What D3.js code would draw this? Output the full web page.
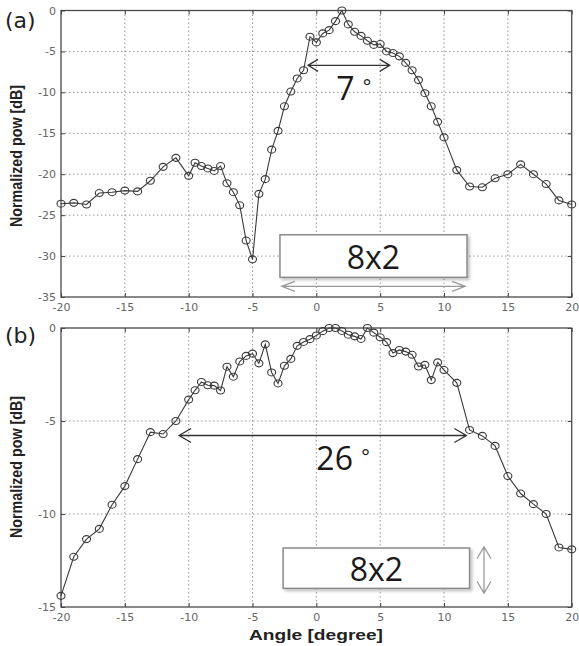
<!DOCTYPE html>
<html>
<head>
<meta charset="utf-8">
<script src="https://cdn.jsdelivr.net/npm/d3@7/dist/d3.min.js"></script>
<style>
  body { margin: 0; background: #fff; }
  svg { display: block; }
</style>
</head>
<body>
<svg id="chart" width="579" height="646"></svg>
<script>
// ---- data ----
const angles = [-20,-19,-18,-17,-16,-15,-14,-13,-12,-11,
  -10,-9.5,-9,-8.5,-8,-7.5,-7,-6.5,-6,-5.5,-5,-4.5,-4,-3.5,-3,-2.5,-2,-1.5,-1,-0.5,
  0,0.5,1,1.5,2,2.5,3,3.5,4,4.5,5,5.5,6,6.5,7,7.5,8,8.5,9,9.5,10,
  11,12,13,14,15,16,17,18,19,20];

const powA = [-23.6,-23.5,-23.7,-22.3,-22.2,-22.0,-22.1,-20.8,-19.1,-18.0,
  -20.2,-18.6,-19.0,-19.3,-19.6,-19.0,-21.1,-22.2,-23.8,-28.1,-30.4,-22.4,-20.6,-17.0,-14.7,-11.7,-9.9,-8.3,-7.3,-3.2,
  -3.9,-2.8,-2.4,-1.3,0,-1.7,-2.6,-3.1,-3.7,-4.2,-4.1,-5.0,-5.2,-5.6,-6.4,-7.3,-8.5,-10.1,-11.7,-13.6,-15.5,
  -19.5,-21.5,-21.6,-20.5,-20.0,-18.8,-20.0,-21.2,-23.2,-23.7];

const powB = [-14.4,-12.3,-11.35,-10.8,-9.5,-8.5,-7.05,-5.6,-5.7,-5.0,
  -3.85,-3.35,-2.9,-3.08,-3.1,-3.36,-2.08,-2.62,-1.8,-1.5,-1.38,-1.9,-0.88,-2.39,-2.98,-2.03,-1.66,-0.96,-0.75,-0.6,
  -0.4,-0.17,0,0,-0.16,-0.36,-0.45,-0.59,0,-0.25,-0.5,-0.76,-1.35,-1.18,-1.27,-1.44,-2.07,-1.98,-2.8,-1.85,-2.26,
  -2.95,-5.48,-5.8,-6.34,-7.96,-8.9,-9.47,-10.0,-11.8,-11.9];

const xTicks = [-20,-15,-10,-5,0,5,10,15,20];
const yTicksA = [-35,-30,-25,-20,-15,-10,-5,0];
const yTicksB = [-15,-10,-5,0];
const panelLabels = ["(a)", "(b)"];
const xLabel = "Angle [degree]";
const yLabel = "Normalized pow [dB]";

// ---- layout ----
const svg = d3.select("#chart");
const W = 579, H = 646;
svg.append("rect").attr("width", W).attr("height", H).attr("fill", "#fff");

const defs = svg.append("defs");
const f = defs.append("filter").attr("id", "shadow").attr("x", "-10%").attr("y", "-20%").attr("width", "130%").attr("height", "160%");
f.append("feDropShadow").attr("dx", 2).attr("dy", 2).attr("stdDeviation", 1.5)
  .attr("flood-color", "#000").attr("flood-opacity", 0.25);

const x = d3.scaleLinear().domain([-20, 20]).range([61, 571.7]);
const yA = d3.scaleLinear().domain([-35, 0]).range([297, 10.5]);
const yB = d3.scaleLinear().domain([-15, 0]).range([607, 328]);

const tickFont = "DejaVu Sans, sans-serif";
const fmt = d => String(d);

function panel(y, yTicks, values, label, labelY, yLabelCenter) {
  const g = svg.append("g");
  const [y0, y1] = y.range();
  const x0 = x.range()[0], x1 = x.range()[1];

  // grid
  g.append("g").selectAll("line").data(xTicks.slice(1, -1)).join("line")
    .attr("x1", d => x(d)).attr("x2", d => x(d)).attr("y1", y1).attr("y2", y0)
    .attr("stroke", "#9a9a9a").attr("stroke-width", 1).attr("stroke-dasharray", "1.5,2.5");
  g.append("g").selectAll("line").data(yTicks.slice(1, -1)).join("line")
    .attr("y1", d => y(d)).attr("y2", d => y(d)).attr("x1", x0).attr("x2", x1)
    .attr("stroke", "#9a9a9a").attr("stroke-width", 1).attr("stroke-dasharray", "1.5,2.5");

  // axes (inward ticks)
  const styleAxis = sel => {
    sel.select(".domain").remove();
    sel.selectAll(".tick line").attr("stroke", "#444");
    sel.selectAll(".tick text").attr("fill", "#666").attr("font-family", tickFont).attr("font-size", 11);
  };
  g.append("g").attr("transform", `translate(0,${y0})`)
    .call(d3.axisBottom(x).tickValues(xTicks).tickFormat(fmt).tickSizeInner(-4).tickSizeOuter(0).tickPadding(6))
    .call(styleAxis);
  g.append("g").attr("transform", `translate(0,${y1})`)
    .call(d3.axisTop(x).tickValues(xTicks).tickFormat("").tickSizeInner(-4).tickSizeOuter(0))
    .call(styleAxis);
  g.append("g").attr("transform", `translate(${x0},0)`)
    .call(d3.axisLeft(y).tickValues(yTicks).tickFormat(fmt).tickSizeInner(-4).tickSizeOuter(0).tickPadding(5))
    .call(styleAxis);
  g.append("g").attr("transform", `translate(${x1},0)`)
    .call(d3.axisRight(y).tickValues(yTicks).tickFormat("").tickSizeInner(-4).tickSizeOuter(0))
    .call(styleAxis);

  // box
  g.append("rect").attr("x", x0).attr("y", y1).attr("width", x1 - x0).attr("height", y0 - y1)
    .attr("fill", "none").attr("stroke", "#4a4a4a").attr("stroke-width", 1.3);

  // line + markers
  const pts = angles.map((a, i) => [a, values[i]]);
  g.append("path").datum(pts)
    .attr("d", d3.line().x(d => x(d[0])).y(d => y(d[1])))
    .attr("fill", "none").attr("stroke", "#3a3a3a").attr("stroke-width", 1.1);
  g.append("g").selectAll("ellipse").data(pts).join("ellipse")
    .attr("cx", d => x(d[0])).attr("cy", d => y(d[1]))
    .attr("rx", 4).attr("ry", 3.5)
    .attr("fill", "none").attr("stroke", "#3a3a3a").attr("stroke-width", 1.1);

  // panel label
  svg.append("text").attr("x", 5).attr("y", labelY).text(label)
    .attr("font-family", "DejaVu Sans, sans-serif").attr("font-size", 22).attr("fill", "#222");

  // y label
  svg.append("text")
    .attr("transform", `translate(16,${yLabelCenter}) rotate(-90)`)
    .attr("text-anchor", "middle").attr("dominant-baseline", "central")
    .attr("font-family", "Liberation Sans, Arial, sans-serif").attr("font-weight", "bold")
    .attr("font-size", 16).attr("textLength", 142).attr("lengthAdjust", "spacingAndGlyphs")
    .attr("fill", "#222").text(yLabel);
  return g;
}

panel(yA, yTicksA, powA, panelLabels[0], 28, 156);
panel(yB, yTicksB, powB, panelLabels[1], 343, 467);

// x label
svg.append("text").attr("x", 316).attr("y", 640).attr("text-anchor", "middle")
  .attr("font-family", "Liberation Sans, Arial, sans-serif").attr("font-weight", "bold")
  .attr("font-size", 14).attr("textLength", 134).attr("lengthAdjust", "spacingAndGlyphs")
  .attr("fill", "#222").text(xLabel);

// ---- annotations (in data coordinates) ----
function hArrow(y, xa, xb, yv, color, head, spread) {
  const X1 = x(xa), X2 = x(xb), Y = y(yv);
  svg.append("path")
    .attr("d", `M${X1},${Y}L${X2},${Y}M${X1 + head},${Y - spread}L${X1},${Y}L${X1 + head},${Y + spread}M${X2 - head},${Y - spread}L${X2},${Y}L${X2 - head},${Y + spread}`)
    .attr("fill", "none").attr("stroke", color).attr("stroke-width", 1.3);
}
function vArrow(y, xv, ya, yb, color, head, spread) {
  const X = x(xv), Y1 = y(ya), Y2 = y(yb);
  svg.append("path")
    .attr("d", `M${X},${Y1}L${X},${Y2}M${X - spread},${Y1 + head}L${X},${Y1}L${X + spread},${Y1 + head}M${X - spread},${Y2 - head}L${X},${Y2}L${X + spread},${Y2 - head}`)
    .attr("fill", "none").attr("stroke", color).attr("stroke-width", 1.3);
}
function box(y, xa, xb, ya, yb, label) {
  svg.append("rect").attr("x", x(xa)).attr("y", y(ya))
    .attr("width", x(xb) - x(xa)).attr("height", y(yb) - y(ya))
    .attr("fill", "#fff").attr("stroke", "#8a8a8a").attr("stroke-width", 1.5)
    .attr("filter", "url(#shadow)");
  svg.append("text").attr("x", (x(xa) + x(xb)) / 2).attr("y", (y(ya) + y(yb)) / 2)
    .attr("text-anchor", "middle").attr("dominant-baseline", "central")
    .attr("font-family", "Open Sans, sans-serif").attr("font-size", 32).attr("fill", "#1a1a1a")
    .text(label);
}
function note(y, xv, yv, num) {
  const t = svg.append("text").attr("x", x(xv)).attr("y", y(yv))
    .attr("font-family", "Open Sans, sans-serif").attr("font-size", 32).attr("fill", "#1a1a1a");
  t.append("tspan").text(num + " ");
  t.append("tspan").attr("font-size", 20).attr("dy", -6).text("°");
}

// panel (a)
hArrow(yA, -0.65, 5.75, -6.7, "#333", 10, 6);
note(yA, 1.55, -10.9, "7");
box(yA, -2.85, 11.8, -27.4, -32.6, "8x2");
hArrow(yA, -2.7, 11.65, -33.7, "#999", 13, 5);

// panel (b)
hArrow(yB, -10.75, 11.75, -5.78, "#333", 12, 7);
note(yB, 0.0, -7.63, "26");
box(yB, -2.6, 12.0, -11.83, -14.0, "8x2");
vArrow(yB, 13.13, -11.76, -14.26, "#999", 12, 7);
</script>
</body>
</html>
